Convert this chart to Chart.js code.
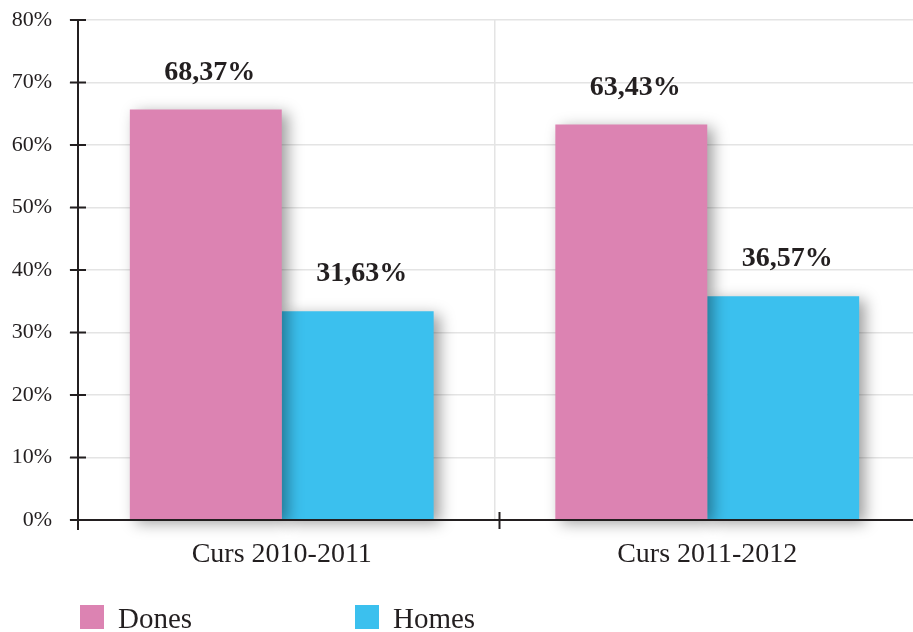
<!DOCTYPE html>
<html>
<head>
<meta charset="utf-8">
<script src="https://cdn.jsdelivr.net/npm/chart.js@4/dist/chart.umd.min.js"></script>
<style>
  html, body { margin: 0; padding: 0; background: #fff; overflow: hidden; }
  #wrap { width: 920px; height: 632px; position: relative; }
</style>
</head>
<body>
<div id="wrap"><canvas id="myChart"></canvas></div>
<script>
// data
const cursos = ['Curs 2010-2011', 'Curs 2011-2012'];
const dones = [65.7, 63.3];
const homes = [33.4, 35.8];
const donesLabels = ['68,37%', '63,43%'];
const homesLabels = ['31,63%', '36,57%'];
const yTicks = [0, 10, 20, 30, 40, 50, 60, 70, 80];

const ink = '#231f20';
const pink = '#dc83b2';
const blue = '#3bc0ee';

// shadow under bars, axes drawn by hand, value labels and legend
const decor = {
    id: 'decor',
    beforeDatasetsDraw(chart) {
        const ctx = chart.ctx;
        ctx.save();
        ctx.shadowColor = 'rgba(0,0,0,0.38)';
        ctx.shadowBlur = 14;
        ctx.shadowOffsetX = 6;
        ctx.shadowOffsetY = 4;
    },
    afterDatasetsDraw(chart) {
        const ctx = chart.ctx;
        ctx.restore();
        const area = chart.chartArea;
        const x = chart.scales.x;
        const y = chart.scales.y;
        const axisX = area.left + 9;

        ctx.save();
        ctx.strokeStyle = ink;
        ctx.lineWidth = 2;
        // x axis
        ctx.beginPath();
        ctx.moveTo(axisX - 8, area.bottom);
        ctx.lineTo(area.right, area.bottom);
        ctx.stroke();
        // y axis
        ctx.beginPath();
        ctx.moveTo(axisX, area.top);
        ctx.lineTo(axisX, area.bottom + 10);
        ctx.stroke();
        // y ticks crossing the axis
        yTicks.forEach(v => {
            const py = y.getPixelForValue(v);
            ctx.beginPath();
            ctx.moveTo(axisX - 8, py);
            ctx.lineTo(axisX + 8, py);
            ctx.stroke();
        });
        // tick between the two categories
        const mid = (x.getPixelForValue(0) + x.getPixelForValue(1)) / 2 + 5;
        ctx.beginPath();
        ctx.moveTo(mid, area.bottom - 8);
        ctx.lineTo(mid, area.bottom + 9);
        ctx.stroke();

        // value labels
        ctx.fillStyle = ink;
        ctx.font = 'bold 28px "Liberation Serif"';
        ctx.textAlign = 'center';
        ctx.textBaseline = 'middle';
        [donesLabels, homesLabels].forEach((labels, di) => {
            chart.getDatasetMeta(di).data.forEach((bar, i) => {
                ctx.fillText(labels[i], bar.x + 4, bar.y - 37);
            });
        });

        // legend
        ctx.font = '29px "Liberation Serif"';
        ctx.textAlign = 'left';
        ctx.textBaseline = 'alphabetic';
        const legendX = [80, 355];
        chart.data.datasets.forEach((ds, i) => {
            ctx.fillStyle = ds.backgroundColor;
            ctx.fillRect(legendX[i], 605, 24, 24);
            ctx.fillStyle = ink;
            ctx.fillText(ds.label, legendX[i] + 38, 628);
        });
        ctx.restore();
    }
};

new Chart('myChart', {
    type: 'bar',
    data: {
        labels: cursos,
        datasets: [
            { label: 'Dones', data: dones, backgroundColor: pink, clip: false },
            { label: 'Homes', data: homes, backgroundColor: blue, clip: false }
        ]
    },
    options: {
        responsive: true,
        maintainAspectRatio: false,
        animation: false,
        layout: { padding: { top: 20, right: 0, bottom: 0, left: 0 } },
        categoryPercentage: 0.714,
        barPercentage: 1,
        plugins: {
            legend: { display: false },
            tooltip: { enabled: false }
        },
        scales: {
            x: {
                afterFit(scale) { scale.height = 112; },
                border: { display: false },
                grid: {
                    offset: true,
                    drawTicks: false,
                    lineWidth: 1.5,
                    color: c => c.index === 0 ? 'rgba(0,0,0,0)' : '#e4e4e4'
                },
                ticks: {
                    padding: 18,
                    color: ink,
                    font: { family: 'Liberation Serif', size: 28 }
                }
            },
            y: {
                min: 0,
                max: 80,
                afterFit(scale) {
                    scale.width = 69;
                    scale.paddingTop = 0;
                    scale.paddingBottom = 0;
                },
                afterBuildTicks(scale) { scale.ticks = yTicks.map(v => ({ value: v })); },
                border: { display: false },
                grid: { drawTicks: false, lineWidth: 1.5, color: '#e4e4e4' },
                ticks: {
                    padding: 17,
                    color: ink,
                    font: { family: 'Liberation Serif', size: 22 },
                    callback: v => v + '%'
                }
            }
        }
    },
    plugins: [decor]
});
</script>
</body>
</html>
